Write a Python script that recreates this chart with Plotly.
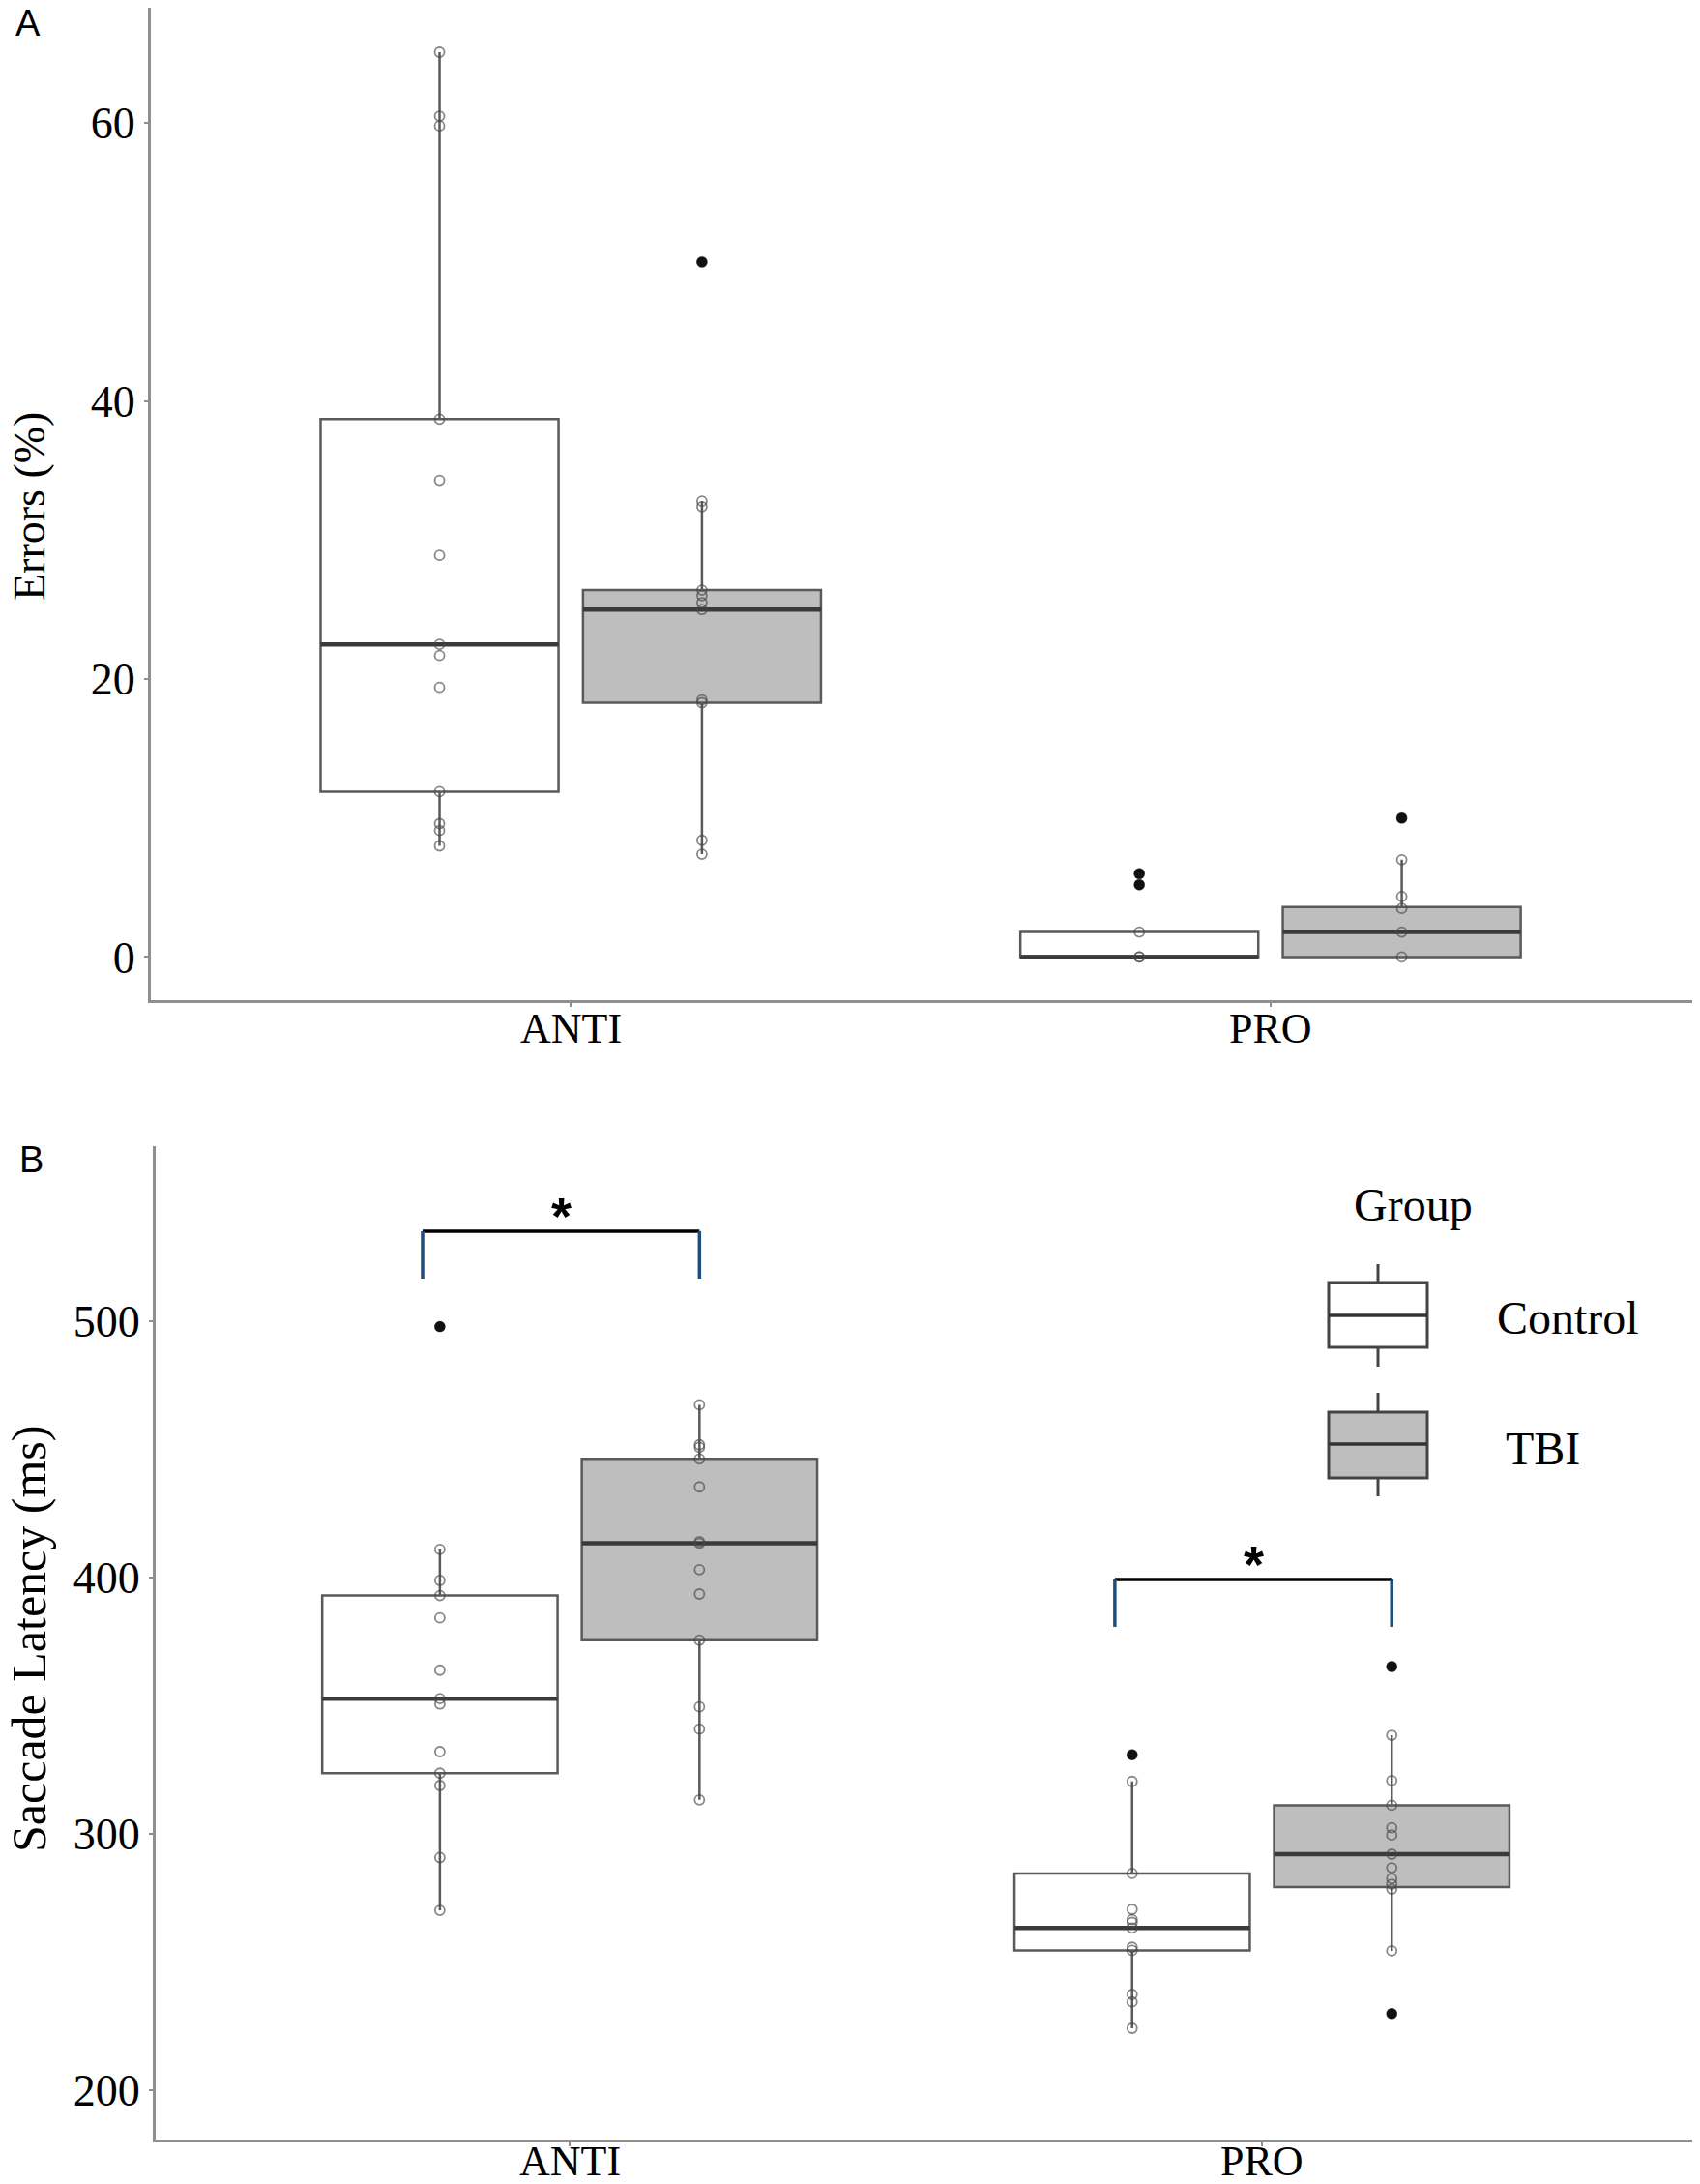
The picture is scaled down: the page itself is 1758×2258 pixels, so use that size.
import plotly.graph_objects as go

# the page adds an 8 px body margin, so the figure is drawn 8 px smaller and
# all positions below (in page pixels) are shifted back
PAGE_W, PAGE_H, OFFSET = 1758, 2258, 8
W, H = PAGE_W - OFFSET, PAGE_H - OFFSET

categories = ['ANTI', 'PRO']
groups = ['Control', 'TBI']

# Panel A: errors (%), individual subjects
err_ctrl_anti = [65.1, 60.5, 59.8, 38.7, 34.3, 28.9, 22.5, 21.7, 19.4, 11.9, 9.6, 9.1, 8.0]
err_tbi_anti = [50.0, 32.8, 32.4, 26.4, 26.0, 25.5, 25.0, 18.5, 18.3, 8.4, 7.4]
err_ctrl_pro = [6.0, 5.2, 1.8, 0.0, 0.0]
err_tbi_pro = [10.0, 7.0, 4.35, 3.5, 1.8, 0.0]

# Panel A box stats (ANTI, PRO)
err_ctrl_q1 = [11.9, 0.0]
err_ctrl_med = [22.5, 0.0]
err_ctrl_q3 = [38.7, 1.8]
err_ctrl_lo = [8.0, 0.0]
err_ctrl_hi = [65.1, 1.8]
err_tbi_q1 = [18.3, 0.0]
err_tbi_med = [25.0, 1.8]
err_tbi_q3 = [26.4, 3.6]
err_tbi_lo = [7.4, 0.0]
err_tbi_hi = [32.8, 7.0]

# Panel B: saccade latency (ms), individual subjects
lat_ctrl_anti = [497.9, 411.0, 398.9, 393.0, 384.3, 363.9, 352.8, 350.7, 332.1, 323.7, 318.9, 290.8, 270.2]
lat_tbi_anti = [467.4, 451.8, 450.8, 446.3, 435.4, 414.0, 413.4, 403.1, 393.6, 375.6, 349.6, 340.9, 313.3]
lat_ctrl_pro = [330.9, 320.5, 284.6, 270.6, 266.6, 265.5, 263.3, 255.8, 254.6, 237.4, 234.5, 224.2]
lat_tbi_pro = [365.3, 338.5, 320.8, 311.2, 302.4, 299.6, 292.1, 286.8, 282.6, 280.4, 278.5, 254.4, 229.9]

# Panel B box stats (ANTI, PRO)
lat_ctrl_q1 = [323.7, 254.6]
lat_ctrl_med = [352.8, 263.3]
lat_ctrl_q3 = [393.0, 284.6]
lat_ctrl_lo = [270.2, 224.2]
lat_ctrl_hi = [411.0, 320.5]
lat_tbi_q1 = [375.6, 279.3]
lat_tbi_med = [413.4, 292.1]
lat_tbi_q3 = [446.3, 311.2]
lat_tbi_lo = [313.3, 254.4]
lat_tbi_hi = [467.4, 338.5]

# significance brackets in panel B (ANTI, PRO)
sig_top = [535.1, 399.3]
sig_bottom = [516.6, 380.8]
sig_star_y = [541.0, 405.2]
sig_label = ['*', '*']

SERIF = 'Liberation Serif'
SANS = 'Liberation Sans'
fills = {'Control': 'white', 'TBI': '#bebebe'}
dodge = 0.1875
box_w = 0.34
axis_grey = '#8f8f8f'


def px(x):
    return (x - OFFSET) / W


def py(y):
    return 1 - (y - OFFSET) / H


fig = go.Figure()


def add_panel(xa, ya, stats, points):
    for gi, g in enumerate(groups):
        off = -dodge if gi == 0 else dodge
        xs = [i + 1 + off for i in range(len(categories))]
        q1, med, q3, lo, hi = stats[g]
        fig.add_trace(go.Box(
            x=xs, q1=q1, median=med, q3=q3, lowerfence=lo, upperfence=hi,
            width=box_w, fillcolor=fills[g], whiskerwidth=0, boxpoints=False,
            line=dict(color='#5a5a5a', width=2.5),
            xaxis=xa, yaxis=ya, showlegend=False, hoverinfo='skip'))
        for x, m in zip(xs, med):
            fig.add_trace(go.Scatter(
                x=[x - box_w / 2, x + box_w / 2], y=[m, m], mode='lines',
                line=dict(color='#3a3a3a', width=4.5),
                xaxis=xa, yaxis=ya, showlegend=False, hoverinfo='skip'))
        for x, pts, l, h in zip(xs, points[g], lo, hi):
            fig.add_trace(go.Scatter(
                x=[x] * len(pts), y=pts, mode='markers',
                marker=dict(symbol='circle-open', size=10,
                            color='rgba(70,70,70,0.65)', line=dict(width=1.8)),
                xaxis=xa, yaxis=ya, showlegend=False, hoverinfo='skip'))
            out = [v for v in pts if v < l or v > h]
            fig.add_trace(go.Scatter(
                x=[x] * len(out), y=out, mode='markers',
                marker=dict(size=11, color='#111111'),
                xaxis=xa, yaxis=ya, showlegend=False, hoverinfo='skip'))


add_panel('x', 'y',
          {'Control': (err_ctrl_q1, err_ctrl_med, err_ctrl_q3, err_ctrl_lo, err_ctrl_hi),
           'TBI': (err_tbi_q1, err_tbi_med, err_tbi_q3, err_tbi_lo, err_tbi_hi)},
          {'Control': [err_ctrl_anti, err_ctrl_pro], 'TBI': [err_tbi_anti, err_tbi_pro]})

add_panel('x2', 'y2',
          {'Control': (lat_ctrl_q1, lat_ctrl_med, lat_ctrl_q3, lat_ctrl_lo, lat_ctrl_hi),
           'TBI': (lat_tbi_q1, lat_tbi_med, lat_tbi_q3, lat_tbi_lo, lat_tbi_hi)},
          {'Control': [lat_ctrl_anti, lat_ctrl_pro], 'TBI': [lat_tbi_anti, lat_tbi_pro]})

# significance brackets
shapes = []
annotations = []
for i, cat in enumerate(categories):
    xl = i + 1 - dodge - 0.025
    xr = i + 1 + dodge
    shapes.append(dict(type='line', xref='x2', yref='y2', x0=xl, x1=xr,
                       y0=sig_top[i], y1=sig_top[i], line=dict(color='black', width=3.5)))
    for xe in (xl, xr):
        shapes.append(dict(type='line', xref='x2', yref='y2', x0=xe, x1=xe,
                           y0=sig_top[i], y1=sig_bottom[i], line=dict(color='#1c4f7c', width=3.5)))
    annotations.append(dict(xref='x2', yref='y2', x=(xl + xr) / 2, y=sig_star_y[i],
                            text='<b>' + sig_label[i] + '</b>', showarrow=False,
                            font=dict(family=SANS, size=54, color='black'),
                            xanchor='center', yanchor='middle'))

# category labels under each panel (sit closer to the axis than plotly's tick labels)
for xref, ylab in (('x', 1063), ('x2', 2234)):
    for i, cat in enumerate(categories):
        annotations.append(dict(xref=xref, yref='paper', x=i + 1, y=py(ylab), text=cat,
                                showarrow=False, xanchor='center', yanchor='middle',
                                font=dict(family=SERIF, size=44, color='black')))

# manual legend
leg_x0, leg_x1, whisk_x = 1374, 1476, 1425
for g, (top, bot, med, wt, wb) in zip(groups, [(1326, 1393, 1360, 1307, 1413),
                                              (1460, 1528, 1493, 1440, 1547)]):
    shapes.append(dict(type='line', xref='paper', yref='paper', x0=px(whisk_x), x1=px(whisk_x),
                       y0=py(wt), y1=py(top), line=dict(color='#444444', width=3)))
    shapes.append(dict(type='line', xref='paper', yref='paper', x0=px(whisk_x), x1=px(whisk_x),
                       y0=py(bot), y1=py(wb), line=dict(color='#444444', width=3)))
    shapes.append(dict(type='rect', xref='paper', yref='paper', x0=px(leg_x0), x1=px(leg_x1),
                       y0=py(bot), y1=py(top), fillcolor=fills[g], line=dict(color='#444444', width=3)))
    shapes.append(dict(type='line', xref='paper', yref='paper', x0=px(leg_x0), x1=px(leg_x1),
                       y0=py(med), y1=py(med), line=dict(color='#333333', width=3.5)))

annotations.append(dict(xref='paper', yref='paper', x=px(1461), y=py(1246), text='Group',
                        showarrow=False, xanchor='center', yanchor='middle',
                        font=dict(family=SERIF, size=48, color='black')))
annotations.append(dict(xref='paper', yref='paper', x=px(1546), y=py(1362), text='Control',
                        showarrow=False, xanchor='left', yanchor='middle',
                        font=dict(family=SERIF, size=48, color='black')))
annotations.append(dict(xref='paper', yref='paper', x=px(1555), y=py(1497), text='TBI',
                        showarrow=False, xanchor='left', yanchor='middle',
                        font=dict(family=SERIF, size=48, color='black')))

# axis titles and panel letters
annotations.append(dict(xref='paper', yref='paper', x=px(30), y=py(524), text='Errors (%)',
                        textangle=-90, showarrow=False, xanchor='center', yanchor='middle',
                        font=dict(family=SERIF, size=46, color='black')))
annotations.append(dict(xref='paper', yref='paper', x=px(30), y=py(1695), text='Saccade Latency (ms)',
                        textangle=-90, showarrow=False, xanchor='center', yanchor='middle',
                        font=dict(family=SERIF, size=50, color='black')))
annotations.append(dict(xref='paper', yref='paper', x=px(14), y=py(24), text='A',
                        showarrow=False, xanchor='left', yanchor='middle',
                        font=dict(family=SANS, size=38, color='black')))
annotations.append(dict(xref='paper', yref='paper', x=px(18), y=py(1199), text='B',
                        showarrow=False, xanchor='left', yanchor='middle',
                        font=dict(family=SANS, size=38, color='black')))

xax = dict(tickvals=[1, 2], showticklabels=False, showline=True, linecolor=axis_grey, linewidth=3,
           ticks='outside', ticklen=4, tickcolor=axis_grey, tickwidth=2, showgrid=False,
           zeroline=False)
yax = dict(showline=True, linecolor=axis_grey, linewidth=3, ticks='outside', ticklen=4,
           tickcolor=axis_grey, tickwidth=2, showgrid=False, zeroline=False,
           tickfont=dict(family=SERIF, size=46, color='black'))

fig.update_layout(
    width=W, height=H, margin=dict(l=0, r=0, t=0, b=0),
    plot_bgcolor='white', paper_bgcolor='white',
    xaxis=dict(xax, domain=[px(156), px(1751)], range=[0.4, 2.604], anchor='y'),
    yaxis=dict(yax, domain=[py(1034), py(8)], range=[-3.1, 68.3], tickvals=[0, 20, 40, 60], anchor='x'),
    xaxis2=dict(xax, domain=[px(161), px(1751)], range=[0.402, 2.623], anchor='y2'),
    yaxis2=dict(yax, domain=[py(2212), py(1185)], range=[180.8, 568.3],
                tickvals=[200, 300, 400, 500], anchor='x2'),
    shapes=shapes, annotations=annotations,
)

fig.write_html("out.html")
